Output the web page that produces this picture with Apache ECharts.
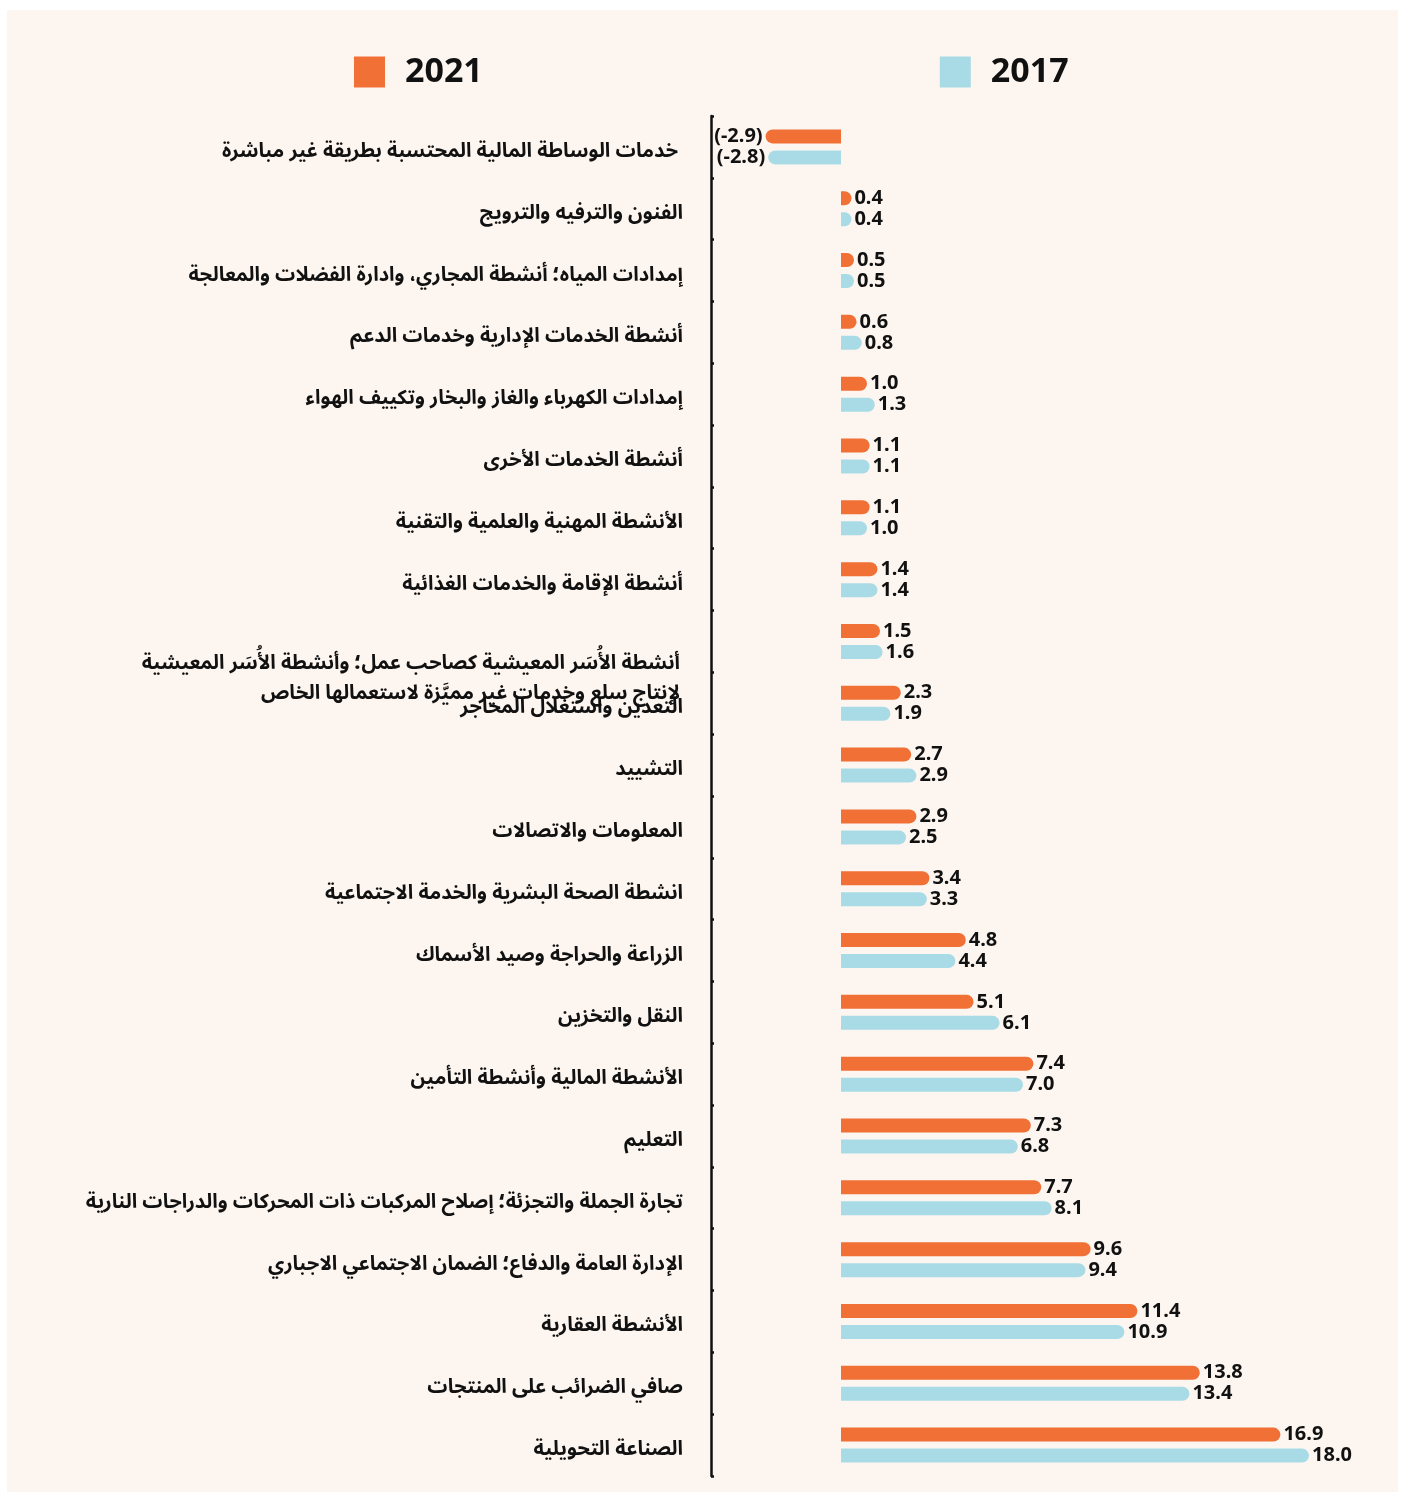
<!DOCTYPE html>
<html>
<head>
<meta charset="utf-8">
<script src="https://cdn.jsdelivr.net/npm/echarts@6/dist/echarts.min.js"></script>
<style>
  html, body { margin: 0; padding: 0; background: #fff; }
  #main { width: 1405px; height: 1499px; }
</style>
</head>
<body>
<div id="main"></div>
<script>
// categories top to bottom
var categories = [
  'خدمات الوساطة المالية المحتسبة بطريقة غير مباشرة',
  'الفنون والترفيه والترويج',
  'إمدادات المياه؛ أنشطة المجاري، وادارة الفضلات والمعالجة',
  'أنشطة الخدمات الإدارية وخدمات الدعم',
  'إمدادات الكهرباء والغاز والبخار وتكييف الهواء',
  'أنشطة الخدمات الأخرى',
  'الأنشطة المهنية والعلمية والتقنية',
  'أنشطة الإقامة والخدمات الغذائية',
  'أنشطة الأُسَر المعيشية كصاحب عمل؛ وأنشطة الأُسَر المعيشية\nلإنتاج سلع وخدمات غير مميَّزة لاستعمالها الخاص',
  'التعدين واستغلال المحاجر',
  'التشييد',
  'المعلومات والاتصالات',
  'انشطة الصحة البشرية والخدمة الاجتماعية',
  'الزراعة والحراجة وصيد الأسماك',
  'النقل والتخزين',
  'الأنشطة المالية وأنشطة التأمين',
  'التعليم',
  'تجارة الجملة والتجزئة؛ إصلاح المركبات ذات المحركات والدراجات النارية',
  'الإدارة العامة والدفاع؛ الضمان الاجتماعي الاجباري',
  'الأنشطة العقارية',
  'صافي الضرائب على المنتجات',
  'الصناعة التحويلية'
];
var values2021 = [-2.9, 0.4, 0.5, 0.6, 1.0, 1.1, 1.1, 1.4, 1.5, 2.3, 2.7, 2.9, 3.4, 4.8, 5.1, 7.4, 7.3, 7.7, 9.6, 11.4, 13.8, 16.9];
var values2017 = [-2.8, 0.4, 0.5, 0.8, 1.3, 1.1, 1.0, 1.4, 1.6, 1.9, 2.9, 2.5, 3.3, 4.4, 6.1, 7.0, 6.8, 8.1, 9.4, 10.9, 13.4, 18.0];

var ORANGE = '#f07036';
var BLUE = '#a9dbe6';
var numFont = "'Noto Sans', 'DejaVu Sans', sans-serif";
var arFont = "'Noto Sans Arabic', 'Noto Sans', 'DejaVu Sans', sans-serif";

function barData(vals) {
  return vals.map(function (v) {
    var neg = v < 0;
    return {
      value: v,
      itemStyle: { borderRadius: neg ? [7, 0, 0, 7] : [0, 7, 7, 0] },
      label: { position: neg ? 'left' : 'right' }
    };
  });
}

var labelOpt = {
  show: true,
  distance: 3,
  fontFamily: numFont,
  fontWeight: 'bold',
  fontSize: 20,
  color: '#111',
  formatter: function (p) {
    var v = p.value;
    return v < 0 ? '(' + v.toFixed(1) + ')' : v.toFixed(1);
  }
};

var arText = { fontFamily: arFont, fontSize: 20, fontWeight: 'bold', color: '#111' };

var chart = echarts.init(document.getElementById('main'));
chart.setOption({
  backgroundColor: '#fff',
  animation: false,
  graphic: [{
    type: 'rect',
    z: -10,
    shape: { x: 7, y: 10, width: 1391, height: 1482 },
    style: { fill: '#fdf6f0' }
  }],
  legend: {
    data: ['2021', '2017'],
    left: 354,
    top: 55,
    padding: 0,
    icon: 'rect',
    itemWidth: 31,
    itemHeight: 31,
    itemGap: 457,
    textStyle: { fontFamily: numFont, fontWeight: 'bold', fontSize: 34, color: '#111', padding: [0, 0, 0, 15] }
  },
  grid: { left: 711, right: 44, top: 116, bottom: 23, containLabel: false },
  xAxis: {
    type: 'value',
    min: -5,
    max: 20,
    show: false
  },
  yAxis: {
    type: 'category',
    inverse: true,
    data: categories,
    axisLine: { show: true, onZero: false, lineStyle: { color: '#111', width: 2.5 } },
    axisTick: { show: true, inside: true, length: 3, lineStyle: { color: '#111', width: 2.5 } },
    axisLabel: {
      margin: 28,
      formatter: function (v, i) {
        if (v.indexOf('\n') >= 0) {
          var parts = v.split('\n');
          return '{sp| }\n{sp| }\n{b|' + parts[0] + '}\n{b|' + parts[1] + '}';
        }
        return i === 0 ? '{top|' + v + '}' : '{a|' + v + '}';
      },
      rich: {
        a: Object.assign({ padding: [14, 0, 0, 0] }, arText),
        top: Object.assign({ padding: [14, 5, 0, 0] }, arText),
        sp: Object.assign({ lineHeight: 40 }, arText),
        b: Object.assign({ lineHeight: 30, padding: [0, 3, 0, 0] }, arText)
      }
    },
    splitLine: { show: false }
  },
  series: [
    {
      name: '2021',
      type: 'bar',
      data: barData(values2021),
      barWidth: 14,
      barGap: '50%',
      itemStyle: { color: ORANGE },
      label: labelOpt
    },
    {
      name: '2017',
      type: 'bar',
      data: barData(values2017),
      barWidth: 14,
      barGap: '50%',
      itemStyle: { color: BLUE },
      label: labelOpt
    }
  ]
});
</script>
</body>
</html>
